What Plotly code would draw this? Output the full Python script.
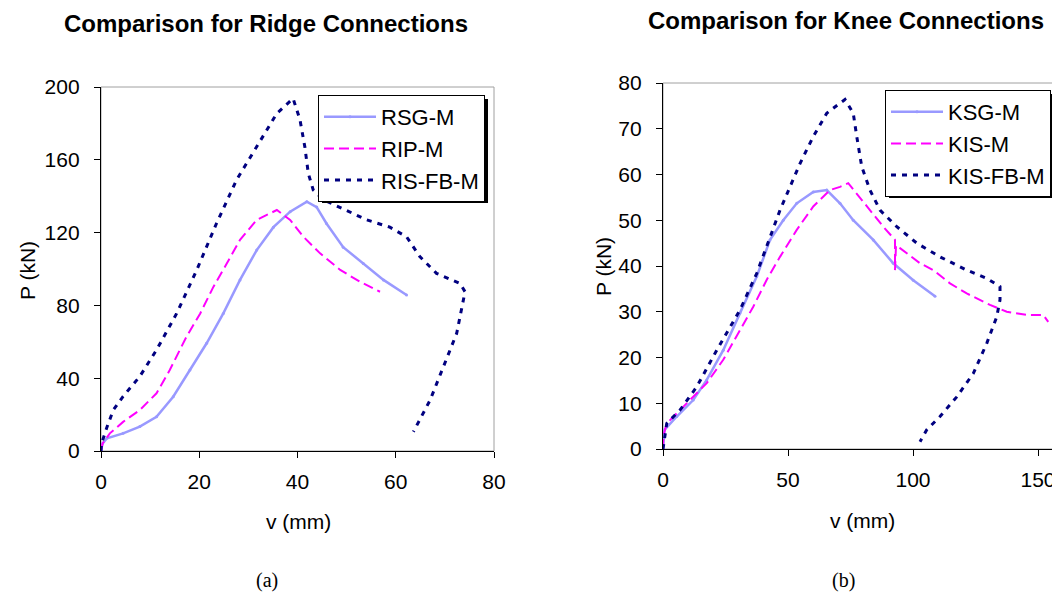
import plotly.graph_objects as go

# ---------------- Ridge connections (a) ----------------
rsg_x = [0, 0.3, 1.2, 4.5, 7.9, 11.3, 14.7, 18.1, 21.5, 24.9, 28.3, 31.7, 35.1, 38.5, 41.9, 43.9, 45.9, 49.3, 53.4, 57.5, 62.2]
rsg_y = [0, 4, 7, 9.7, 13.4, 18.8, 29.8, 44.5, 59.2, 75.6, 94, 110.4, 123, 131.5, 137, 134, 125, 112, 103, 94, 85.7]

rip_x = [0, 0.3, 1.8, 4.5, 7.9, 11.3, 14, 17.4, 20.2, 22.9, 25.6, 28.3, 31.7, 35.8, 38.5, 41.2, 44.6, 48.7, 52.7, 56.8]
rip_y = [0, 4, 9.7, 16, 22.5, 31.7, 44.5, 62.8, 75.6, 90.3, 103, 116, 127, 132.4, 127, 117.7, 108.6, 99.5, 93, 87.5]

risfb_x = [0, 0.1, 1.2, 2.5, 4.5, 7.9, 11.3, 15.4, 19.5, 23.5, 27.6, 31.7, 35.8, 39.1, 40.5, 41.5, 42.2, 43.2, 45.3,
           49.3, 54.1, 58.8, 62.2, 64.9, 68.3, 73.1, 74.1, 72.4, 69.7, 67, 63.6]
risfb_y = [0, 4, 13, 22.5, 30, 41, 55.5, 75.6, 99.5, 125, 149, 167, 185.5, 193.7, 182, 167, 152.5, 143.4, 138,
           133, 127, 123, 117.7, 106.8, 97.6, 92, 87.5, 64.6, 46.3, 28, 10.6]

# ---------------- Knee connections (b) ----------------
ksg_x = [0, 0.6, 5.5, 12.1, 17.5, 24.1, 30.8, 37.5, 42.8, 48.1, 53.5, 60.1, 65.5, 70.8, 76.1, 84.1, 92.1, 100.1, 108.8]
ksg_y = [0, 4.2, 7.1, 10.7, 15.1, 21.6, 29.7, 37.7, 45.7, 50, 53.7, 56.2, 56.6, 53.7, 50, 45.7, 40.6, 36.9, 33.4]

kis_x = [0, 0.2, 1.5, 5.5, 10.8, 17.5, 24.1, 30.8, 36.1, 41.5, 46.8, 53.5, 60.1, 66.8, 70.8, 74.1, 81.5, 88.1,
         92.8, 92.8, 93.2, 94.8, 102.8, 108.1, 114.8, 121.5, 130.8, 137.5, 145.5, 152.1, 154.1]
kis_y = [0, 3, 5.6, 7.8, 10.7, 14.4, 19.5, 26, 31.1, 37, 42, 47.9, 53, 56.6, 57.3, 58.1, 53, 48.6,
         45.7, 39.1, 44.5, 43.9, 40.6, 39.1, 36.2, 34, 31.5, 30, 29.3, 29.3, 27.8]

kisfb_x = [0, 1.5, 6.8, 13.5, 21.5, 30.8, 37.5, 42.8, 46.8, 50.8, 54.8, 60.1, 65.5, 72.8, 76.1, 77.5, 79.5, 82.8,
           86.8, 93.5, 101.5, 110.8, 121.5, 129.5, 134.8, 134.8, 133.5, 129.5, 124.1, 117.5, 110.8, 105.5, 102.8]
kisfb_y = [0, 5.6, 8.5, 13.6, 21.6, 30.4, 38.4, 46.4, 52.2, 57.3, 62.4, 68.3, 73.4, 76.4, 73.4, 68.3, 61.7, 56.6,
           52.2, 48.6, 45, 42, 39.1, 37.3, 35.5, 32.6, 28.9, 23.1, 16.5, 11.4, 7.1, 4.2, 1.6]

ridge_xticks = [0, 20, 40, 60, 80]
ridge_yticks = [0, 40, 80, 120, 160, 200]
knee_xticks = [0, 50, 100, 150]
knee_yticks = [0, 10, 20, 30, 40, 50, 60, 70, 80]

# page has an 8px body margin, so the figure is drawn 8px smaller and positions are offset
OFF = 8
W, H = 1060 - OFF, 594 - OFF
LB = "#9999FF"
MG = "#FF00FF"
NV = "#000080"
ARIAL = "Arial, Liberation Sans, sans-serif"
TIMES = "Times New Roman, Liberation Serif, serif"


def px(x):
    return (x - OFF) / W


def py(y):
    return 1 - (y - OFF) / H


fig = go.Figure()

series = [
    ("RSG-M", rsg_x, rsg_y, dict(color=LB, width=2.5), "x", "y", "legend", True),
    ("RIP-M", rip_x, rip_y, dict(color=MG, width=2, dash="10px,5px"), "x", "y", "legend", False),
    ("RIS-FB-M", risfb_x, risfb_y, dict(color=NV, width=3, dash="5px,6px"), "x", "y", "legend", False),
    ("KSG-M", ksg_x, ksg_y, dict(color=LB, width=2.5), "x2", "y2", "legend2", True),
    ("KIS-M", kis_x, kis_y, dict(color=MG, width=2, dash="10px,5px"), "x2", "y2", "legend2", False),
    ("KIS-FB-M", kisfb_x, kisfb_y, dict(color=NV, width=3, dash="5px,6px"), "x2", "y2", "legend2", False),
]
for name, xs, ys, line, xa, ya, lg, mk in series:
    fig.add_trace(go.Scatter(
        x=xs, y=ys, name=name, xaxis=xa, yaxis=ya, legend=lg, legendgroup=name,
        mode="lines+markers" if mk else "lines",
        line=line, marker=dict(size=3, color=LB) if mk else None,
    ))

axis_common = dict(showline=True, linecolor="black", linewidth=1.3, ticks="outside", ticklen=6,
                   tickcolor="black", showgrid=False, zeroline=False, automargin=False,
                   tickfont=dict(family=ARIAL, size=21, color="black"))

legend_common = dict(xanchor="left", yanchor="top", bgcolor="white", bordercolor="black", borderwidth=1,
                     font=dict(family=ARIAL, size=22, color="black"), tracegroupgap=0,
                     traceorder="grouped", itemwidth=52)

fig.update_layout(
    width=W, height=H, margin=dict(l=0, r=0, t=0, b=0, autoexpand=False),
    paper_bgcolor="white", plot_bgcolor="white", showlegend=True,
    xaxis=dict(domain=[px(101), px(494)], range=[0, 80], tickvals=ridge_xticks, anchor="y",
               ticklabelstandoff=6, **axis_common),
    yaxis=dict(domain=[py(451), py(87)], range=[0, 200], tickvals=ridge_yticks, anchor="x",
               ticklabelstandoff=10, **axis_common),
    xaxis2=dict(domain=[px(663), 1.0], range=[0, 158.8], tickvals=knee_xticks, anchor="y2",
                ticklabelstandoff=6, **axis_common),
    yaxis2=dict(domain=[py(449), py(83)], range=[0, 80], tickvals=knee_yticks, anchor="x2",
                ticklabelstandoff=10, **axis_common),
    legend=dict(x=px(318), y=py(95), **legend_common),
    legend2=dict(x=px(885), y=py(90), **legend_common),
)

shapes = [
    dict(type="rect", xref="x domain", yref="y domain", x0=0, x1=1, y0=0, y1=1,
         line=dict(color="#A0A0A0", width=1), layer="below"),
    dict(type="rect", xref="x2 domain", yref="y2 domain", x0=0, x1=1, y0=0, y1=1,
         line=dict(color="#A0A0A0", width=1), layer="below"),
    # legend drop shadows
    dict(type="rect", xref="paper", yref="paper", x0=px(322), x1=px(488), y0=py(203), y1=py(99),
         fillcolor="black", line=dict(width=0), layer="above"),
    dict(type="rect", xref="paper", yref="paper", x0=px(889), x1=px(1055), y0=py(198), y1=py(94),
         fillcolor="black", line=dict(width=0), layer="above"),
]
fig.update_layout(shapes=shapes)

ann = [
    dict(text="<b>Comparison for Ridge Connections</b>", x=px(266), y=py(24), size=24, fam=ARIAL, ang=0),
    dict(text="<b>Comparison for Knee Connections</b>", x=px(846), y=py(21), size=24, fam=ARIAL, ang=0),
    dict(text="v (mm)", x=px(298), y=py(521), size=21, fam=ARIAL, ang=0),
    dict(text="v (mm)", x=px(862), y=py(520), size=21, fam=ARIAL, ang=0),
    dict(text="P (kN)", x=px(27), y=py(270), size=21, fam=ARIAL, ang=-90),
    dict(text="P (kN)", x=px(603), y=py(267), size=21, fam=ARIAL, ang=-90),
    dict(text="(a)", x=px(267), y=py(580), size=20, fam=TIMES, ang=0),
    dict(text="(b)", x=px(843), y=py(580), size=20, fam=TIMES, ang=0),
]
fig.update_layout(annotations=[
    dict(text=a["text"], x=a["x"], y=a["y"], xref="paper", yref="paper", showarrow=False,
         xanchor="center", yanchor="middle", textangle=a["ang"],
         font=dict(family=a["fam"], size=a["size"], color="black"))
    for a in ann
])

fig.write_html("out.html")
